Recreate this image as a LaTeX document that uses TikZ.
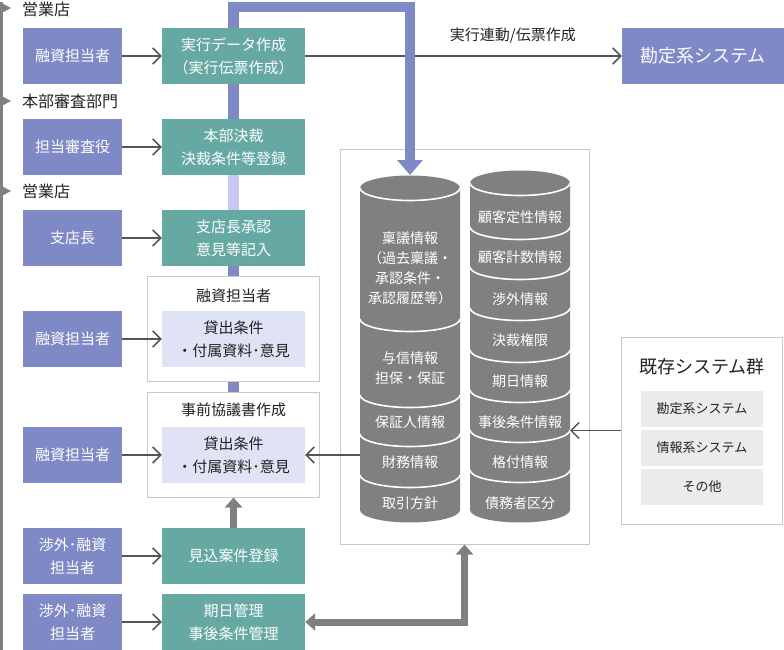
\documentclass[tikz,border=0pt]{standalone}
\usepackage{fontspec}
\setmainfont{Noto Sans CJK JP}
\usepackage{tikz}
\usetikzlibrary{arrows.meta,backgrounds}

\definecolor{staffblue}{RGB}{127,137,197}
\definecolor{taskgreen}{RGB}{102,169,163}
\definecolor{lightband}{RGB}{197,200,240}
\definecolor{paleblue}{RGB}{224,227,246}
\definecolor{dbgray}{RGB}{128,128,128}
\definecolor{framegray}{RGB}{200,200,200}
\definecolor{boxgray}{RGB}{235,235,235}
\definecolor{linegray}{RGB}{85,85,85}
\definecolor{textblack}{RGB}{34,34,34}

\begin{document}
\begin{tikzpicture}[x = 1pt, y = -1pt,
                        staff/.style = {fill = staffblue, text = white, minimum width = 99pt, minimum height = 56pt,
                                        inner sep = 0pt, align = center, font = \fontsize{15}{23}\selectfont},
                        task/.style = {staff, fill = taskgreen, minimum width = 143pt},
                        paper/.style = {task, fill = paleblue, text = textblack},
                        panel/.style = {draw = framegray, line width = 1pt, fill = white, inner sep = 0pt},
                        side/.style = {anchor = west, inner sep = 0pt, text = textblack, font = \fontsize{16}{18}\selectfont},
                        head/.style = {inner sep = 0pt, text = textblack, font = \fontsize{15}{18}\selectfont},
                        dbtext/.style = {inner sep = 0pt, text = white, align = center, font = \fontsize{14}{20}\selectfont},
                        other/.style = {fill = boxgray, minimum width = 122pt, minimum height = 36pt, inner sep = 0pt,
                                        text = textblack, font = \fontsize{13}{16}\selectfont},
                        conn/.style = {draw = linegray, line width = 1.5pt, -{Straight Barb[length = 8pt, width = 16pt]}},
                        fat/.style = {draw = dbgray, line width = 7pt, -{Triangle[length = 10pt, width = 17pt]}},
                        fatboth/.style = {fat, {Triangle[length = 10pt, width = 17pt]}-{Triangle[length = 10pt, width = 17pt]}},
                        band/.style = {draw = staffblue, line width = 10.5pt, -{Triangle[length = 15pt, width = 25pt]}}]
      \useasboundingbox (0, 0) rectangle (784, 650);

      % stages on the left
      \draw [dbgray, line width = 3pt] (1.5, 2) -- (1.5, 650);
      \foreach \y in {8, 101, 191}
        \fill [dbgray] (1.5, \y - 5) -- (11, \y) -- (1.5, \y + 5) -- cycle;
      \node [side] (z1) at (22, 9){営業店};
      \node [side] (z2) at (22, 101){本部審査部門};
      \node [side] (z3) at (22, 191){営業店};

      % people
      \node [staff] (s1) at (72.5, 56){融資担当者};
      \node [staff] (s2) at (72.5, 147){担当審査役};
      \node [staff] (s3) at (72.5, 238){支店長};
      \node [staff] (s4) at (72.5, 339){融資担当者};
      \node [staff] (s5) at (72.5, 455){融資担当者};
      \node [staff] (s6) at (72.5, 556){渉外･融資\\担当者};
      \node [staff] (s7) at (72.5, 622){渉外･融資\\担当者};

      % work steps
      \node [task] (t1) at (233.5, 56){実行データ作成\\（実行伝票作成）};
      \node [task] (t2) at (233.5, 147){本部決裁\\決裁条件等登録};
      \node [task] (t3) at (233.5, 238){支店長承認\\意見等記入};
      \node [panel, minimum width = 172pt, minimum height = 105pt] (p1) at (233.5, 328.5){};
      \node [head] (h1) at (233.5, 296){融資担当者};
      \node [paper] (d1) at (233.5, 339){貸出条件\\・付属資料･意見};
      \node [panel, minimum width = 172pt, minimum height = 105pt] (p2) at (233.5, 444.5){};
      \node [head] (h2) at (233.5, 410){事前協議書作成};
      \node [paper] (d2) at (233.5, 455){貸出条件\\・付属資料･意見};
      \node [task] (t6) at (233.5, 556){見込案件登録};
      \node [task] (t7) at (233.5, 622){期日管理\\事後条件管理};

      \node [staff, minimum width = 162pt, font = \fontsize{18}{22}\selectfont] (kanjo) at (703, 56){勘定系システム};

      % existing systems
      \node [panel, minimum width = 161pt, minimum height = 187pt] (exist) at (702, 430.5){};
      \node [head, font = \fontsize{18}{22}\selectfont] (exh) at (702, 367){既存システム群};
      \node [other] (e1) at (702, 409){勘定系システム};
      \node [other] (e2) at (702, 448){情報系システム};
      \node [other] (e3) at (702, 487){その他};

      % database
      \fill [dbgray] (360, 188) -- (360, 510) arc [start angle = 180, end angle = 360, x radius = 50pt, y radius = 12.5pt]
            -- (460, 188) arc [start angle = 0, end angle = 180, x radius = 50pt, y radius = 12.5pt] -- cycle;
      \foreach \c in {188, 319, 395, 434, 475}
        \draw [white, line width = 1.6pt] (360, \c) arc [start angle = 180, end angle = 360, x radius = 50pt, y radius = 12.5pt];
      \fill [dbgray] (470, 183) -- (470, 510) arc [start angle = 180, end angle = 360, x radius = 50pt, y radius = 12.5pt]
            -- (570, 183) arc [start angle = 0, end angle = 180, x radius = 50pt, y radius = 12.5pt] -- cycle;
      \foreach \c in {183, 227, 267, 308, 350, 390, 430, 470}
        \draw [white, line width = 1.6pt] (470, \c) arc [start angle = 180, end angle = 360, x radius = 50pt, y radius = 12.5pt];

      \node [dbtext] (q1) at (410, 268){稟議情報\\（過去稟議・\\承認条件・\\承認履歴等）};
      \node [dbtext] (q2) at (410, 368){与信情報\\担保・保証};
      \node [dbtext] (q3) at (410, 422){保証人情報};
      \node [dbtext] (q4) at (410, 462){財務情報};
      \node [dbtext] (q5) at (410, 503){取引方針};
      \node [dbtext] (r1) at (520, 217){顧客定性情報};
      \node [dbtext] (r2) at (520, 257){顧客計数情報};
      \node [dbtext] (r3) at (520, 299){渉外情報};
      \node [dbtext] (r4) at (520, 340){決裁権限};
      \node [dbtext] (r5) at (520, 381){期日情報};
      \node [dbtext] (r6) at (520, 422){事後条件情報};
      \node [dbtext] (r7) at (520, 462){格付情報};
      \node [dbtext] (r8) at (520, 503){債務者区分};

      \coordinate (dbtop) at (410, 175);
      \coordinate (dbleft) at (360, 455);
      \coordinate (dbright) at (570, 430.5);

      \begin{scope}[on background layer]
        \node [panel, fill = none, minimum width = 249pt, minimum height = 395pt] (dbframe) at (464.5, 346.5){};
        \draw [conn] (t1.east) -- node [pos = 0.656, above = 12pt, head]{実行連動/伝票作成} (kanjo.west);
        \draw [band] (d2.center) -- (d2.center |- 0, 7) -| (dbtop);
        \draw [lightband, line width = 10.5pt] (t2.south) -- (t3.north);
      \end{scope}

      \draw [conn] (s1) -- (t1);
      \draw [conn] (s2) -- (t2);
      \draw [conn] (s3) -- (t3);
      \draw [conn] (s4) -- (d1);
      \draw [conn] (s5) -- (d2);
      \draw [conn] (s6) -- (t6);
      \draw [conn] (s7) -- (t7);
      \draw [conn] (dbleft) -- (d2.east);
      \draw [conn] (exist.west) -- (dbright);
      \draw [fat] (t6.north) -- (p2.south);
      \draw [fatboth] (t7.east) -| (dbframe.south);
      \end{tikzpicture}
\end{document}
